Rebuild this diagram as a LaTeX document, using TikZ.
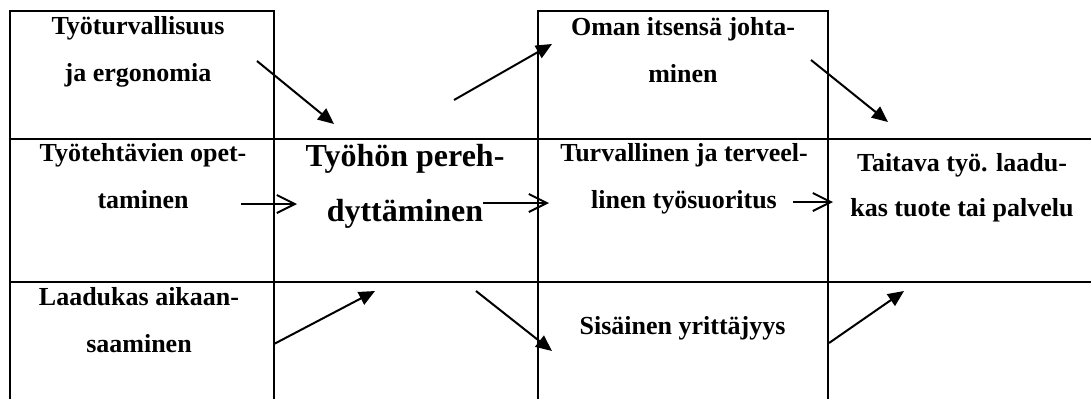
\documentclass[tikz,border=0pt]{standalone}
\usepackage{fontspec}
\setmainfont{Liberation Serif}
\usetikzlibrary{arrows.meta}

\tikzset{
  rule/.style={line width=1pt, line cap=rect},
  cell/.style={align=center, anchor=base, inner sep=0pt,
    font=\bfseries\fontsize{13pt}{23.5pt}\selectfont},
  maincell/.style={cell, font=\bfseries\fontsize{16pt}{27.5pt}\selectfont},
  flow/.style={line width=1pt, -{Triangle[length=8pt,width=7pt]}},
  pass/.style={line width=1pt, -{Straight Barb[length=9pt,width=9pt]}}
}

\begin{document}
\begin{tikzpicture}[x=0.5pt, y=-0.5pt]
  \useasboundingbox (0,0) rectangle (1091,398);

  % table rules
  \draw[rule] (10,11) -- (274,11);
  \draw[rule] (538,11) -- (828,11);
  \draw[rule] (10,139) -- (1091,139);
  \draw[rule] (10,282) -- (1091,282);
  \draw[rule] (10,11) -- (10,398);
  \draw[rule] (274,11) -- (274,398);
  \draw[rule] (538,11) -- (538,398);
  \draw[rule] (828,11) -- (828,398);

  % cell texts
  \node[cell] (tyoturva) at (138,81.7) {Työturvallisuus\\ja ergonomia};
  \node[cell] (johtaminen) at (683,82) {Oman itsensä johta-\\minen};
  \node[cell] (opetus) at (143,208) {Työtehtävien opet-\\taminen};
  \node[maincell] (pereh) at (405,221.7) {Työhön pereh-\\dyttäminen};
  \node[cell] (suoritus) at (684,208) {Turvallinen ja terveel-\\linen työsuoritus};
  \node[cell, font=\bfseries\fontsize{13pt}{22.5pt}\selectfont] (tuote) at (962,216.7) {Taitava työ. laadu-\\kas tuote tai palvelu};
  \node[cell] (aikaan) at (139,352) {Laadukas aikaan-\\saaminen};
  \node[cell] (yrittajyys) at (682.5,334) {Sisäinen yrittäjyys};

  % arrow end points
  \coordinate (a1s) at (257,61);  \coordinate (a1e) at (334,124);
  \coordinate (a2s) at (454,100); \coordinate (a2e) at (552,44);
  \coordinate (a3s) at (811,60);  \coordinate (a3e) at (888,122);
  \coordinate (h1s) at (241,204); \coordinate (h1e) at (297,204);
  \coordinate (h2s) at (483,203); \coordinate (h2e) at (549,203);
  \coordinate (h3s) at (793,202); \coordinate (h3e) at (833,202);
  \coordinate (a7s) at (274,344); \coordinate (a7e) at (375,291);
  \coordinate (a8s) at (476,291); \coordinate (a8e) at (552,351);
  \coordinate (a9s) at (829,343); \coordinate (a9e) at (904,291);

  % arrows
  \draw[flow] (a1s) -- (a1e);
  \draw[flow] (a2s) -- (a2e);
  \draw[flow] (a3s) -- (a3e);
  \draw[pass] (h1s) -- (h1e);
  \draw[pass] (h2s) -- (h2e);
  \draw[pass] (h3s) -- (h3e);
  \draw[flow] (a7s) -- (a7e);
  \draw[flow] (a8s) -- (a8e);
  \draw[flow] (a9s) -- (a9e);
\end{tikzpicture}
\end{document}
